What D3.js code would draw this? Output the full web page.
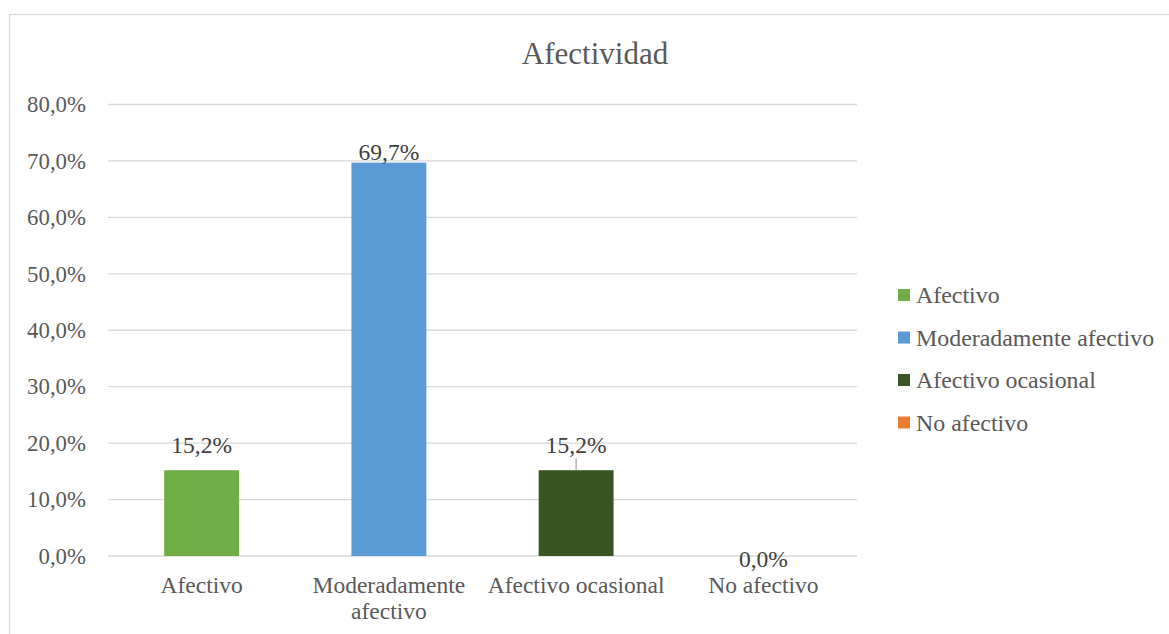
<!DOCTYPE html>
<html>
<head>
<meta charset="utf-8">
<script src="https://cdn.jsdelivr.net/npm/d3@7"></script>
<style>
  html, body { margin: 0; padding: 0; background: #fff; }
  svg { display: block; }
  text { font-family: "Liberation Serif", "Times New Roman", serif; }
</style>
</head>
<body>
<svg id="chart" width="1169" height="634"></svg>
<script>
const title = "Afectividad";
const categories = ["Afectivo", "Moderadamente afectivo", "Afectivo ocasional", "No afectivo"];
const categoryLines = [["Afectivo"], ["Moderadamente", "afectivo"], ["Afectivo ocasional"], ["No afectivo"]];
const values = [15.2, 69.7, 15.2, 0.0];
const colors = ["#70ad47", "#5b9bd5", "#375623", "#ed7d31"];
const yTicks = [0, 10, 20, 30, 40, 50, 60, 70, 80];

const svg = d3.select("#chart");
const W = 1169, H = 634;
const margin = { left: 108, right: 312, top: 104.5, bottom: 78 };
const x0 = margin.left, x1 = W - margin.right;
const yTop = margin.top, yBot = H - margin.bottom;

const fmt = v => v.toFixed(1).replace(".", ",") + "%";

// chart border
svg.append("rect").attr("x", 9.5).attr("y", 14.5).attr("width", W + 10).attr("height", H + 10)
  .attr("fill", "none").attr("stroke", "#d9d9d9").attr("stroke-width", 1.2);

const x = d3.scaleBand().domain(categories).range([x0, x1]).paddingInner(0.6).paddingOuter(0.3);
const y = d3.scaleLinear().domain([0, 80]).range([yBot, yTop]);

// gridlines
svg.append("g").selectAll("line").data(yTicks).join("line")
  .attr("x1", x0).attr("x2", x1)
  .attr("y1", d => y(d)).attr("y2", d => y(d))
  .attr("stroke", "#d9d9d9").attr("stroke-width", 1.3);

// y axis labels
const yAxis = d3.axisLeft(y).tickValues(yTicks).tickFormat(fmt).tickSize(0).tickPadding(0);
const gy = svg.append("g").attr("transform", `translate(${x0 - 22},0)`).call(yAxis);
gy.select(".domain").remove();
gy.selectAll("text").attr("font-size", 22.8).attr("fill", "#595959")
  .attr("font-family", "Liberation Serif, Times New Roman, serif").attr("dy", "0.32em");

// bars
svg.append("g").selectAll("rect").data(values).join("rect")
  .attr("x", (d, i) => x(categories[i]))
  .attr("width", x.bandwidth())
  .attr("y", d => y(d))
  .attr("height", d => yBot - y(d))
  .attr("fill", (d, i) => colors[i]);

// data labels
const lbl = svg.append("g");
values.forEach((v, i) => {
  const cx = x(categories[i]) + x.bandwidth() / 2;
  let ty;
  if (i === 2) {
    ty = y(v) - 17;
    lbl.append("line").attr("x1", cx).attr("x2", cx).attr("y1", y(v) - 12).attr("y2", y(v))
      .attr("stroke", "#a6a6a6").attr("stroke-width", 1.2);
  } else if (i === 1) {
    ty = y(v) - 3;
  } else if (v === 0) {
    ty = y(v) + 11;
  } else {
    ty = y(v) - 17;
  }
  lbl.append("text").attr("x", cx).attr("y", ty).attr("text-anchor", "middle")
    .attr("font-size", 23.5).attr("fill", "#404040").text(fmt(v));
});

// category labels
const xl = svg.append("g");
categoryLines.forEach((lines, i) => {
  const cx = x(categories[i]) + x.bandwidth() / 2;
  lines.forEach((t, j) => {
    xl.append("text").attr("x", cx).attr("y", 593 + j * 26).attr("text-anchor", "middle")
      .attr("font-size", 23.5).attr("fill", "#595959").text(t);
  });
});

// title
svg.append("text").attr("x", 595).attr("y", 64).attr("text-anchor", "middle")
  .attr("font-size", 31).attr("fill", "#595959").text(title);

// legend
const leg = svg.append("g");
categories.forEach((c, i) => {
  const cy = 295 + i * 42.5;
  leg.append("rect").attr("x", 898).attr("y", cy - 6).attr("width", 12).attr("height", 12).attr("fill", colors[i]);
  leg.append("text").attr("x", 916).attr("y", cy + 8).attr("font-size", 23.9).attr("fill", "#595959").text(c);
});
</script>
</body>
</html>
